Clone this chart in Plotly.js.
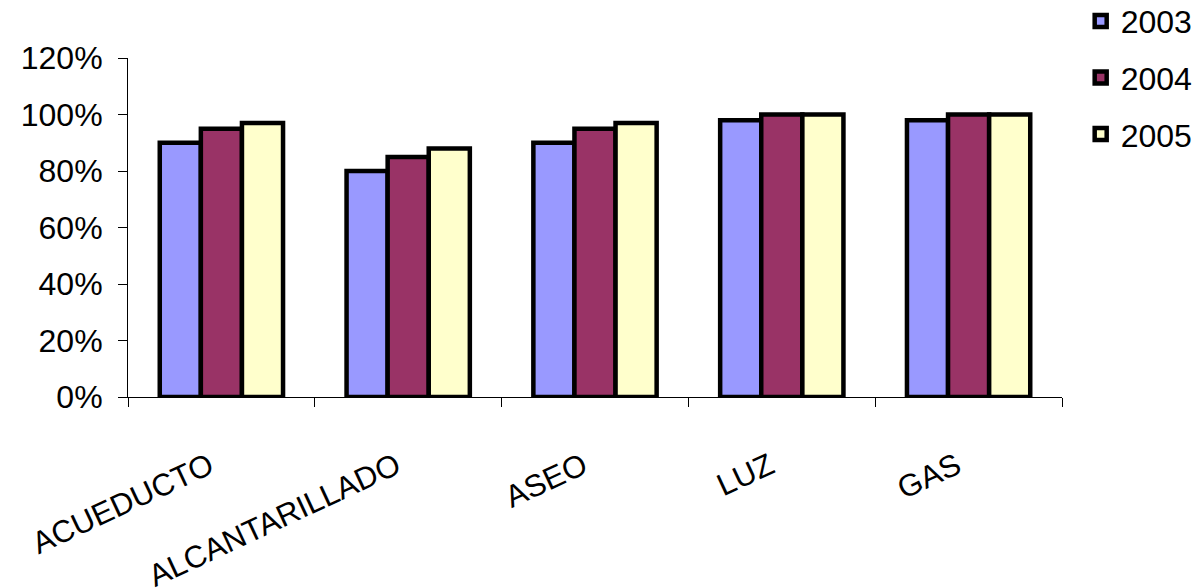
<!DOCTYPE html>
<html>
<head>
<meta charset="utf-8">
<script src="https://cdn.plot.ly/plotly-3.0.1.min.js"></script>
<style>body{margin:0;padding:0;background:#fff;}#chart{width:1198px;height:588px;}</style>
</head>
<body>
<div id="chart"></div>
<script>
const categories = ["ACUEDUCTO", "ALCANTARILLADO", "ASEO", "LUZ", "GAS"];
const years = ["2003", "2004", "2005"];
const values2003 = [0.90, 0.80, 0.90, 0.98, 0.98];
const values2004 = [0.95, 0.85, 0.95, 1.00, 1.00];
const values2005 = [0.97, 0.88, 0.97, 1.00, 1.00];
const colors = ["#9999FF", "#993366", "#FFFFCC"];
const yTickVals = [0, 0.2, 0.4, 0.6, 0.8, 1.0, 1.2];

const series = [values2003, values2004, values2005];
const data = series.map((vals, i) => ({
  type: "bar",
  name: years[i],
  x: categories,
  y: vals,
  legendgroup: "g" + i,
  marker: {color: colors[i], line: {color: "#000", width: 4.5}},
  hoverinfo: "x+y"
}));

const font = {family: "Liberation Sans, Arial, sans-serif", size: 32, color: "#000"};
const xfont = {family: "Liberation Sans, Arial, sans-serif", size: 31, color: "#000"};
const layout = {
  width: 1198, height: 588,
  margin: {l: 128, r: 136, t: 58, b: 191, autoexpand: false},
  paper_bgcolor: "#fff", plot_bgcolor: "#fff",
  font: font,
  barmode: "group",
  bargap: 0.34,
  bargroupgap: 0,
  showlegend: true,
  legend: {x: 1.02, y: 1.19, xanchor: "left", yanchor: "top", font: font,
           tracegroupgap: 12, bgcolor: "rgba(0,0,0,0)", itemwidth: 30},
  xaxis: {
    type: "category",
    showline: true, linecolor: "#000", linewidth: 1,
    ticks: "outside", tickson: "boundaries", ticklen: 9, tickcolor: "#000",
    tickangle: -25, tickfont: xfont,
    ticklabelstandoff: 38, ticklabelshift: -12,
    showgrid: false, zeroline: false
  },
  yaxis: {
    range: [0, 1.2],
    tickvals: yTickVals, tickformat: ".0%",
    showline: true, linecolor: "#000", linewidth: 1,
    ticks: "outside", ticklen: 9, tickcolor: "#000",
    tickfont: font, ticklabelstandoff: 9,
    showgrid: false, zeroline: false
  }
};

Plotly.newPlot("chart", data, layout, {displayModeBar: false, staticPlot: true});
</script>
</body>
</html>
